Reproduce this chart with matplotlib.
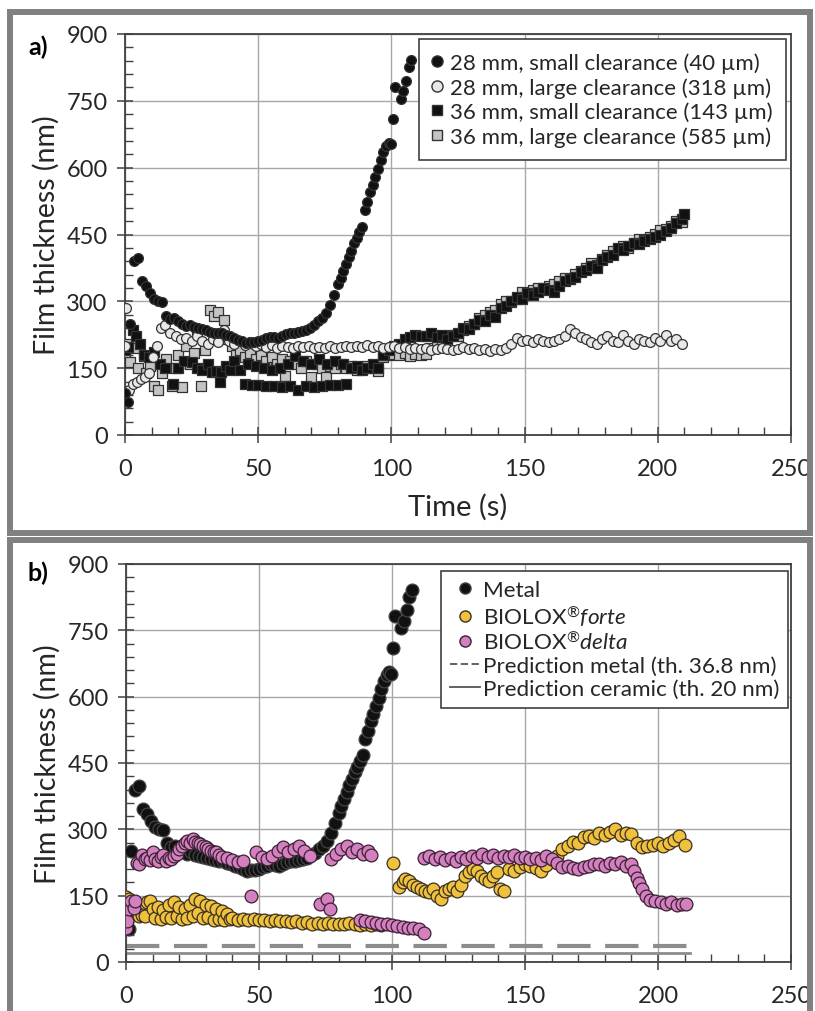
import numpy as np
import matplotlib
matplotlib.use("Agg")
import matplotlib.pyplot as plt
from matplotlib.patches import Rectangle
from matplotlib.lines import Line2D
from matplotlib.ticker import MultipleLocator

plt.rcParams['font.family'] = ['Lato', 'DejaVu Sans']
plt.rcParams['mathtext.fontset'] = 'custom'
plt.rcParams['mathtext.rm'] = 'Lato'
plt.rcParams['mathtext.it'] = 'Lato:italic'

# ---- data (time in s, film thickness in nm) ----
# 28 mm, small clearance = metal (same run in both panels)
metal_t = [0, 1, 2, 3.5, 5, 6.5, 8, 9.5, 11, 12.5,
           14, 15.5, 17, 18.5, 20, 21.5, 23, 24.5, 26, 27.5,
           29, 30.5, 32, 33.5, 35, 36.5, 38, 39.5, 41, 42.5,
           44, 45.5, 47, 48.5, 50, 51.5, 53, 54.5, 56, 57.5,
           59, 60.5, 62, 63.5, 65, 66.5, 68, 69.5, 71, 72.5,
           74, 75.5, 77, 78.5, 80, 81, 82, 83, 84, 85,
           86, 87, 88, 89, 90, 91, 92, 93, 94, 95,
           96, 97, 98, 99, 99.8, 100.5, 101.2, 103.5, 104.5, 105.5,
           106.5, 107.5]
metal_v = [95, 75, 250, 390, 398, 345, 335, 318, 305, 300,
           298, 268, 260, 262, 255, 250, 245, 248, 243, 240,
           238, 236, 232, 230, 228, 228, 225, 222, 218, 214,
           210, 206, 208, 209, 211, 214, 218, 221, 220, 218,
           222, 226, 228, 229, 231, 233, 236, 241, 247, 255,
           262, 274, 292, 315, 338, 352, 368, 384, 400, 414,
           430, 442, 455, 467, 504, 522, 545, 560, 578, 598,
           617, 635, 648, 655, 652, 710, 782, 755, 772, 795,
           825, 842]

# 28 mm, large clearance
l28_t = [0, 0.5, 1.5, 3, 4.5, 6, 7.5, 9, 10.5, 12, 13.5, 15] + list(range(17, 211, 2))
l28_v = [200, 285, 100, 115, 120, 125, 130, 140, 175, 200, 240, 246,
         228, 222, 215, 218, 210, 222, 212, 205, 215, 208,
         236, 212, 205, 210, 203, 208, 200, 205, 198, 202,
         196, 200, 198, 195, 200, 197, 200, 196, 198, 195,
         200, 196, 198, 200, 197, 200, 198, 202, 198, 200,
         196, 198, 200, 196, 198, 193, 196, 192, 195, 190,
         193, 195, 192, 190, 193, 197, 192, 195, 190, 193,
         188, 192, 190, 195, 205, 218, 210, 213, 208, 215,
         210, 208, 212, 215, 222, 238, 228, 220, 215, 208,
         205, 215, 222, 212, 208, 225, 210, 205, 215, 212,
         208, 218, 212, 225, 210, 215, 205]

# 36 mm, small clearance
s36_t = [0, 1.25, 3, 4, 5.5, 7, 9, 11, 13, 15,
         18, 20, 22, 25, 27, 29, 31, 32.5, 34, 35.6,
         36, 38, 39.5, 41, 43, 45, 46, 47.5, 49, 50,
         52, 53, 55, 56, 58, 59, 61, 62, 64, 65,
         67, 68, 70, 71, 73, 74, 76, 77, 79, 80,
         82, 83, 85, 87, 89, 91, 93, 95, 97, 99] + list(range(101, 211, 2)) + [210]
s36_v = [190, 197, 235, 222, 205, 180, 175, 186, 160, 150,
         115, 150, 165, 163, 150, 145, 160, 141, 144, 118,
         141, 155, 145, 165, 145, 115, 160, 112, 155, 112,
         150, 110, 145, 110, 150, 108, 160, 110, 178, 100,
         165, 110, 160, 108, 170, 110, 160, 112, 165, 112,
         159, 114, 150, 155, 145, 150, 159, 150, 180, 190,
         200, 205, 215, 220, 225, 222, 223, 228, 220, 225,
         215, 222, 230, 240, 238, 250, 258, 255, 270, 265,
         285, 290, 300, 310, 305, 318, 315, 322, 330, 325,
         320, 335, 345, 350, 355, 365, 370, 380, 375, 392,
         400, 405, 420, 415, 425, 430, 428, 435, 440, 445,
         450, 458, 465, 475, 485, 495]

# 36 mm, large clearance
l36_t = [0, 1, 2, 4, 5, 7, 8, 9.5, 11, 12.5,
         14, 15.5, 17.5, 19, 20, 21.5, 23, 24.5, 26, 27,
         28.5, 30, 32, 33.5, 35, 37, 38.5, 40, 41.5, 43,
         45, 47, 49, 51, 53, 55, 57, 59, 60, 62,
         64, 66, 68, 70, 72, 74, 75.5, 77, 79, 81,
         83, 85, 87, 89, 91, 93, 95] + list(range(97, 211, 2))
l36_v = [178, 205, 163, 195, 150, 178, 140, 155, 111, 100,
         140, 170, 111, 150, 180, 107, 200, 160, 185, 235,
         111, 190, 280, 268, 277, 258, 215, 200, 180, 190,
         175, 185, 170, 180, 165, 175, 160, 170, 133, 165,
         160, 150, 165, 130, 160, 150, 130, 155, 150, 160,
         150, 155, 145, 150, 155, 150, 144,
         175, 180, 182, 180, 185, 178, 182, 180, 182, 195,
         205, 210, 215, 225, 222, 235, 245, 250, 262, 270,
         275, 280, 295, 300, 298, 305, 320, 315, 325, 330,
         328, 335, 340, 345, 352, 350, 362, 368, 375, 385,
         382, 395, 405, 412, 418, 425, 420, 432, 440, 438,
         445, 452, 460, 462, 470, 480, 478]

# BIOLOX forte
forte_t = list(range(0, 40)) + list(range(40, 97, 2)) + \
          [100.5, 102.5, 104, 105, 106.5, 108, 109.5, 111, 112.5, 114,
           115.5, 117, 118.5, 120, 121.5, 123, 124.5, 126, 127.5, 129,
           130.5, 132, 133.5, 135, 136.5, 138, 139.5, 140.5, 142] + list(range(144, 211, 2))
forte_v = [146, 142, 120, 131, 110, 105, 107, 104, 136, 139,
           120, 100, 125, 98, 118, 102, 130, 100, 135, 105,
           125, 98, 120, 100, 130, 105, 142, 110, 138, 100,
           128, 102, 127, 96, 120, 98, 116, 95, 108, 97,
           100, 96, 98, 95, 97, 94, 95, 92, 96, 92,
           93, 90, 92, 88, 90, 87, 88, 86, 88, 85,
           87, 85, 88, 86, 84, 85, 83, 86, 84,
           225, 170, 180, 188, 183, 175, 170, 165, 160, 158,
           165, 150, 142, 160, 165, 170, 160, 173, 195, 203,
           210, 205, 195, 188, 184, 195, 203, 165, 160,
           210, 205, 215, 222, 218, 212, 206, 220, 232, 240,
           255, 263, 272, 270, 282, 286, 280, 292, 288, 295,
           300, 288, 292, 290, 270, 260, 262, 265, 268, 262,
           270, 275, 285, 265]

# BIOLOX delta
delta_t = [0, 0.5, 1, 2, 3, 3.5, 4, 5, 6, 7,
           8, 9, 10, 11, 12, 13, 14, 15, 16, 17,
           18, 19, 20, 21, 22, 23, 24, 25, 26, 27,
           28, 29, 30, 31, 32, 33, 34, 35, 36, 38,
           40, 42, 44, 47, 49, 51, 53, 55, 57, 59,
           61, 63, 65, 67, 69, 73, 75.5, 76.7, 77, 79,
           81, 83, 85, 87, 89, 91, 92,
           88, 90, 92, 94, 96, 98, 100, 102, 104, 106,
           108, 110, 112] + list(range(112, 191, 2)) + \
          [191, 192, 193, 194, 195.5, 197, 199, 201, 203, 205,
           207, 209, 210.5]
delta_v = [78, 92, 120, 138, 123, 139, 225, 222, 241, 232,
           236, 230, 248, 232, 229, 238, 241, 228, 236, 233,
           240, 245, 255, 262, 270, 274, 268, 278, 272, 268,
           267, 262, 259, 255, 252, 248, 248, 242, 238, 235,
           230, 226, 228, 150, 248, 238, 232, 240, 250, 259,
           248, 255, 263, 250, 240, 131, 142, 120, 233, 245,
           255, 263, 248, 255, 245, 250, 242,
           95, 92, 90, 88, 86, 85, 84, 82, 80, 78,
           76, 74, 66,
           235, 240, 232, 238, 230, 236, 228, 238, 234, 240,
           236, 244, 238, 242, 236, 240, 237, 242, 236, 238,
           232, 236, 230, 240, 232, 225, 214, 218, 212, 210,
           215, 218, 222, 222, 218, 225, 222, 226, 218, 222,
           205, 190, 178, 165, 150, 140, 137, 135, 132, 135,
           130, 131, 131]

pred_metal = 36.8
pred_ceramic = 20
pred_end = 212

labels_a = ['28 mm, small clearance (40 \u00b5m)', '28 mm, large clearance (318 \u00b5m)',
            '36 mm, small clearance (143 \u00b5m)', '36 mm, large clearance (585 \u00b5m)']
labels_b = ['Metal', r'BIOLOX$^{\circledR}\mathit{forte}$', r'BIOLOX$^{\circledR}\mathit{delta}$',
            'Prediction metal (th. 36.8 nm)', 'Prediction ceramic (th. 20 nm)']

W, H = 815, 1012
fig = plt.figure(figsize=(W / 100, H / 100), dpi=100)


def px_box(l, t, r, b):
    return [l / W, 1 - b / H, (r - l) / W, (b - t) / H]


def frame(l, t, r, b):
    fig.add_artist(Rectangle((l / W, 1 - b / H), (r - l) / W, (b - t) / H,
                             transform=fig.transFigure, fill=False,
                             edgecolor='#808080', lw=4.3, clip_on=False))


def style_axes(ax):
    ax.set_xlim(0, 250)
    ax.set_ylim(0, 900)
    ax.xaxis.set_major_locator(MultipleLocator(50))
    ax.xaxis.set_minor_locator(MultipleLocator(10))
    ax.yaxis.set_major_locator(MultipleLocator(150))
    ax.yaxis.set_minor_locator(MultipleLocator(30))
    ax.grid(True, which='major', color='#a8a8a8', lw=1.0)
    ax.set_axisbelow(True)
    ax.tick_params(which='major', direction='inout', length=11, width=1.1,
                   labelsize=17, labelcolor='#262626', color='#404040')
    ax.tick_params(axis='x', which='major', pad=11)
    ax.tick_params(axis='y', which='major', pad=7)
    ax.tick_params(which='minor', direction='in', length=6, width=1.0, color='#404040')
    for s in ax.spines.values():
        s.set_color('#404040')
        s.set_linewidth(1.3)
    ax.set_ylabel('Film thickness (nm)', fontsize=20.5, color='#262626', labelpad=5)


frame(10, 13, 810, 533.5)
frame(10, 540.5, 810, 1040)

# ---- panel a ----
ax_a = fig.add_axes(px_box(125, 35, 791, 436))
style_axes(ax_a)
sa = 50
ax_a.scatter(l36_t, l36_v, s=sa, marker='s', facecolor='#c4c4c4', edgecolor='#333333', lw=0.9, zorder=3)
ax_a.scatter(s36_t, s36_v, s=sa, marker='s', facecolor='#111111', edgecolor='#333333', lw=0.9, zorder=3)
ax_a.scatter(l28_t, l28_v, s=sa, marker='o', facecolor='#e8e8e8', edgecolor='#333333', lw=0.9, zorder=3)
ax_a.scatter(metal_t, metal_v, s=sa, marker='o', facecolor='#111111', edgecolor='#333333', lw=0.9, zorder=3)
ax_a.set_xlabel('Time (s)', fontsize=21, color='#262626', labelpad=10)

hand_a = [Line2D([], [], ls='', marker='o', ms=8, mfc='#111111', mec='#333333'),
          Line2D([], [], ls='', marker='o', ms=8, mfc='#e8e8e8', mec='#333333'),
          Line2D([], [], ls='', marker='s', ms=7, mfc='#111111', mec='#333333'),
          Line2D([], [], ls='', marker='s', ms=7, mfc='#c4c4c4', mec='#333333')]
leg_a = ax_a.legend(hand_a, labels_a, loc='upper right', bbox_to_anchor=(0.9925, 0.9875),
                    fontsize=16, frameon=True, fancybox=False, framealpha=1,
                    edgecolor='#404040', handlelength=0.45, handletextpad=0.35,
                    borderpad=0.6, labelspacing=0.18, borderaxespad=0)
leg_a.get_frame().set_linewidth(1.2)
for txt in leg_a.get_texts():
    txt.set_color('#262626')

# ---- panel b ----
ax_b = fig.add_axes(px_box(126, 565, 791, 963))
style_axes(ax_b)
sb = 85
ax_b.plot([0, pred_end], [pred_metal, pred_metal], color='#8c8c8c', lw=3, ls=(0, (8, 3.5)), zorder=2)
ax_b.plot([0, pred_end], [pred_ceramic, pred_ceramic], color='#8c8c8c', lw=2, zorder=2)
ax_b.scatter(metal_t, metal_v, s=sb, marker='o', facecolor='#111111', edgecolor='#444444', lw=0.9, zorder=3)
ax_b.scatter(forte_t, forte_v, s=sb, marker='o', facecolor='#efc13c', edgecolor='#3a3020', lw=0.9, zorder=3)
ax_b.scatter(delta_t, delta_v, s=sb, marker='o', facecolor='#d47fbe', edgecolor='#3a2035', lw=0.9, zorder=3)

hand_b = [Line2D([], [], ls='', marker='o', ms=8, mfc='#111111', mec='#444444'),
          Line2D([], [], ls='', marker='o', ms=8, mfc='#efc13c', mec='#3a3020'),
          Line2D([], [], ls='', marker='o', ms=8, mfc='#d47fbe', mec='#3a2035'),
          Line2D([], [], color='#555555', lw=1.3, ls=(0, (4, 2))),
          Line2D([], [], color='#555555', lw=1.3)]
leg_b = ax_b.legend(hand_b, labels_b, loc='upper right', bbox_to_anchor=(0.9955, 0.982),
                    fontsize=16.2, frameon=True, fancybox=False, framealpha=1,
                    edgecolor='#404040', handlelength=1.35, handletextpad=0.1,
                    borderpad=0.4, labelspacing=0.12, borderaxespad=0)
leg_b.get_frame().set_linewidth(1.2)
for txt in leg_b.get_texts():
    txt.set_color('#262626')

fig.text(38 / W, 1 - 47 / H, 'a)', fontsize=18, fontweight='bold', ha='center', va='center')
fig.text(38 / W, 1 - 573 / H, 'b)', fontsize=18, fontweight='bold', ha='center', va='center')

fig.savefig('out.png', dpi=100, facecolor='white')
